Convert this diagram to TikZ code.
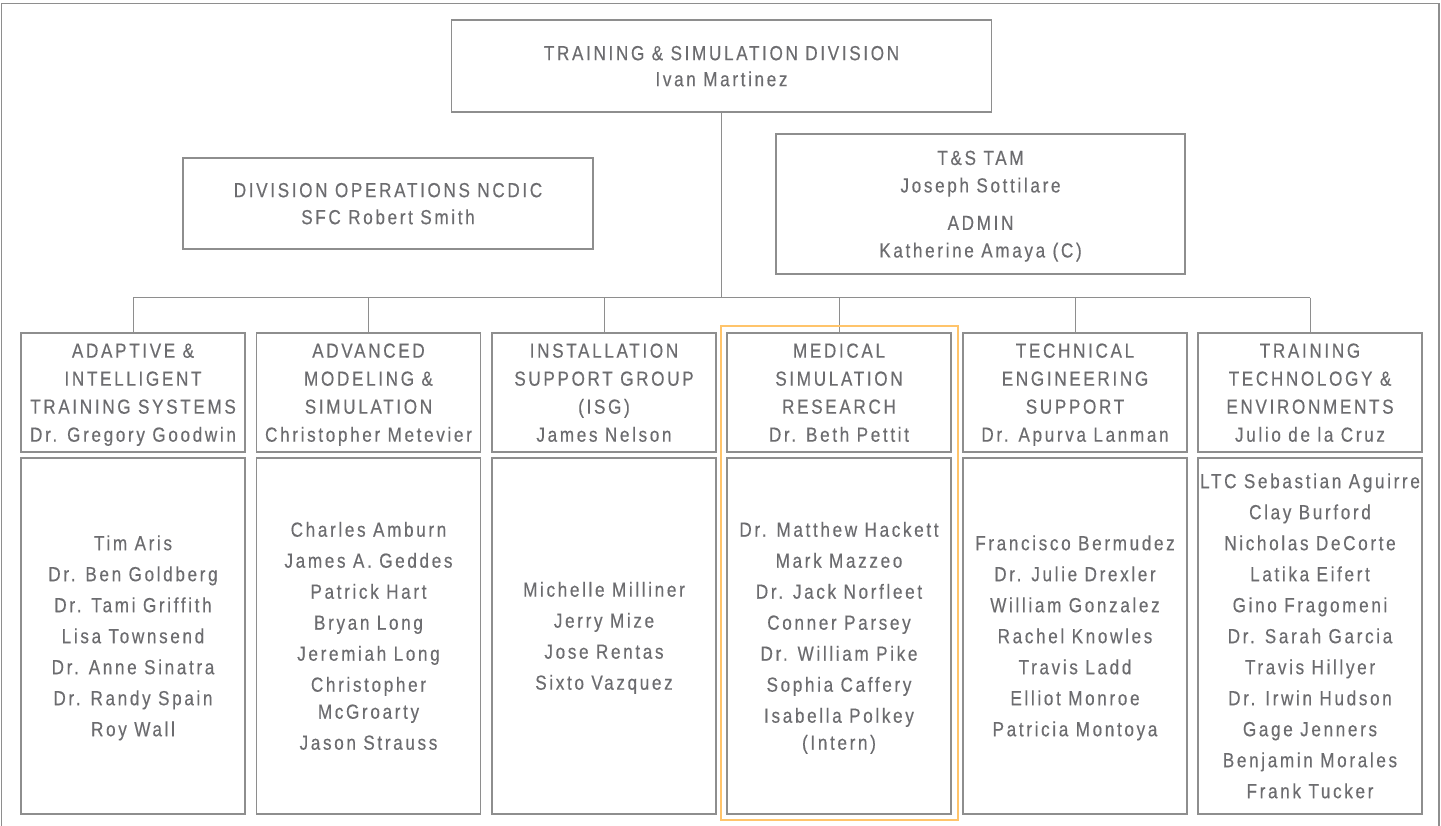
\documentclass[tikz,border=0pt]{standalone}
\usepackage{fontspec}
\setmainfont{Liberation Sans}[FakeStretch=0.84,LetterSpace=13,FakeBold=0.4]
\definecolor{txt}{HTML}{6C6C6F}
\definecolor{ln}{HTML}{8E8E8E}
\definecolor{hlc}{HTML}{FFC46B}
\newcommand\tops{\rule{0pt}{19.4pt}}
\newcommand\bots{\rule[-5pt]{0pt}{5pt}}
\tikzset{
  box/.style={draw=ln, line width=1.5pt, rectangle, inner sep=0pt, align=center, text=txt},
  topbox/.style={box, minimum width=540pt, minimum height=92pt, font=\fontsize{20.4}{26}\selectfont},
  staffbox/.style={box, minimum width=410pt, minimum height=91pt, font=\fontsize{20.4}{27}\selectfont},
  tambox/.style={box, minimum width=409pt, minimum height=140pt, font=\fontsize{20.4}{27.5}\selectfont},
  headbox/.style={box, minimum width=224pt, minimum height=119pt, font=\fontsize{20.4}{28}\selectfont},
  listbox/.style={box, minimum width=224pt, minimum height=356pt, font=\fontsize{20.4}{27}\selectfont},
  hlbox/.style={draw=hlc, line width=2.8pt, rectangle, inner sep=0pt, minimum width=237pt, minimum height=494pt},
  conn/.style={draw=ln, line width=1pt},
  framestyle/.style={draw=ln, line width=1.3pt}
}
\begin{document}
\begin{tikzpicture}[x=1pt,y=-1pt]
\useasboundingbox (0,0) rectangle (1441,825);
\draw[framestyle] (1.5,826) -- (1.5,3.5) -- (1439,3.5) -- (1439,826);

\node[topbox] (top) at (721.5,66) {\tops TRAINING \& SIMULATION DIVISION\\Ivan Martinez\bots};
\node[staffbox] (ops) at (388,203.5) {\tops DIVISION OPERATIONS NCDIC\\SFC Robert Smith\bots};
\node[tambox] (tam) at (980.5,204) {\tops T\&S TAM\\Joseph Sottilare\\[10pt]ADMIN\\Katherine Amaya (C)\bots};

\node[headbox] (h1) at (133,392.5) {\tops ADAPTIVE \&\\INTELLIGENT\\TRAINING SYSTEMS\\Dr. Gregory Goodwin\bots};
\node[headbox] (h2) at (368.5,392.5) {\tops ADVANCED\\MODELING \&\\SIMULATION\\Christopher Metevier\bots};
\node[headbox] (h3) at (604,392.5) {\tops INSTALLATION\\SUPPORT GROUP\\(ISG)\\James Nelson\bots};
\node[headbox] (h4) at (839,392.5) {\tops MEDICAL\\SIMULATION\\RESEARCH\\Dr. Beth Pettit\bots};
\node[headbox] (h5) at (1075,392.5) {\tops TECHNICAL\\ENGINEERING\\SUPPORT\\Dr. Apurva Lanman\bots};
\node[headbox] (h6) at (1310,392.5) {\tops TRAINING\\TECHNOLOGY \&\\ENVIRONMENTS\\Julio de la Cruz\bots};

\node[listbox] (l1) at (133,636) {\tops Tim Aris\\[4pt]Dr. Ben Goldberg\\[4pt]Dr. Tami Griffith\\[4pt]Lisa Townsend\\[4pt]Dr. Anne Sinatra\\[4pt]Dr. Randy Spain\\[4pt]Roy Wall\bots};
\node[listbox] (l2) at (368.5,636) {\tops Charles Amburn\\[4pt]James A. Geddes\\[4pt]Patrick Hart\\[4pt]Bryan Long\\[4pt]Jeremiah Long\\[4pt]Christopher\\McGroarty\\[4pt]Jason Strauss\bots};
\node[listbox] (l3) at (604,636) {\tops Michelle Milliner\\[4pt]Jerry Mize\\[4pt]Jose Rentas\\[4pt]Sixto Vazquez\bots};
\node[listbox] (l4) at (839,636) {\tops Dr. Matthew Hackett\\[4pt]Mark Mazzeo\\[4pt]Dr. Jack Norfleet\\[4pt]Conner Parsey\\[4pt]Dr. William Pike\\[4pt]Sophia Caffery\\[4pt]Isabella Polkey\\(Intern)\bots};
\node[listbox] (l5) at (1075,636) {\tops Francisco Bermudez\\[4pt]Dr. Julie Drexler\\[4pt]William Gonzalez\\[4pt]Rachel Knowles\\[4pt]Travis Ladd\\[4pt]Elliot Monroe\\[4pt]Patricia Montoya\bots};
\node[listbox] (l6) at (1310,636) {\tops LTC Sebastian Aguirre\\[4pt]Clay Burford\\[4pt]Nicholas DeCorte\\[4pt]Latika Eifert\\[4pt]Gino Fragomeni\\[4pt]Dr. Sarah Garcia\\[4pt]Travis Hillyer\\[4pt]Dr. Irwin Hudson\\[4pt]Gage Jenners\\[4pt]Benjamin Morales\\[4pt]Frank Tucker\bots};

\coordinate (bus) at (721.5,297.5);
\draw[conn] (top.south) -- (bus);
\draw[conn] (bus -| h1.north) -- (bus -| h6.north);
\foreach \h in {h1,h2,h3,h4,h5,h6} {
  \draw[conn] (bus -| \h.north) -- (\h.north);
}

\node[hlbox] (hl) at (839.5,573) {};
\end{tikzpicture}
\end{document}
